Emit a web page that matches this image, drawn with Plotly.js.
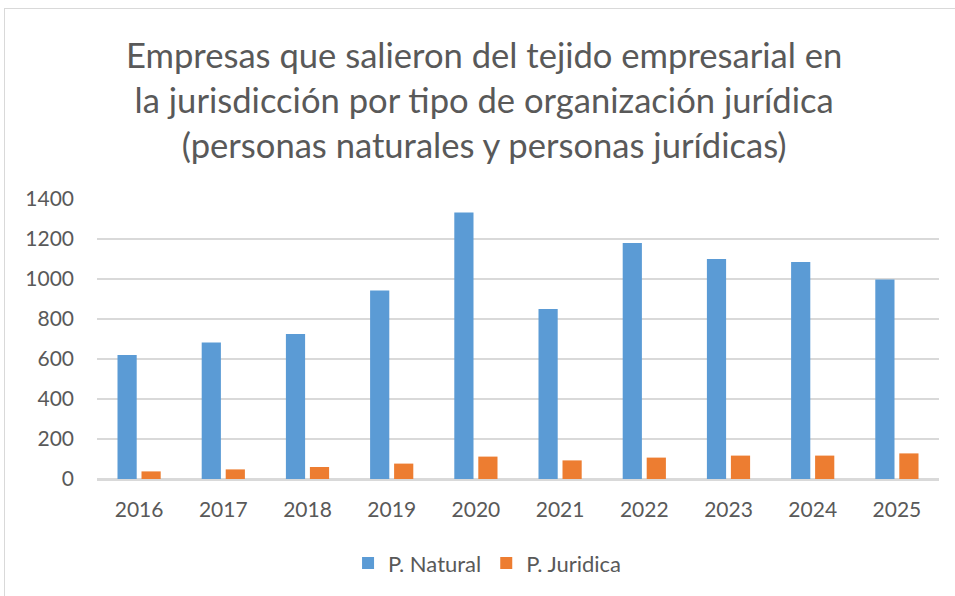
<!DOCTYPE html>
<html>
<head>
<meta charset="utf-8">
<script src="https://cdn.plot.ly/plotly-3.0.1.min.js"></script>
<style>
  html, body { margin: 0; padding: 0; background: #ffffff; overflow: hidden; }
  #chart { width: 955px; height: 596px; position: absolute; left: 0; top: 0; }
  #frame { position: absolute; left: 4px; top: 8px; width: 970px; height: 620px;
           border: 1.5px solid #d9d9d9; pointer-events: none; box-sizing: border-box; }
</style>
</head>
<body>
<div id="chart"></div>
<div id="frame"></div>
<script>
const years = ['2016', '2017', '2018', '2019', '2020', '2021', '2022', '2023', '2024', '2025'];
const natural = [620, 683, 725, 943, 1333, 850, 1180, 1100, 1085, 998];
const juridica = [38, 48, 60, 77, 112, 93, 107, 117, 117, 128];
const seriesNames = ['P. Natural', 'P. Juridica'];
const yTicks = [0, 200, 400, 600, 800, 1000, 1200, 1400];

const textColor = '#595959';
const fontFamily = 'Lato, "Open Sans", "Liberation Sans", sans-serif';

const traces = [
  { type: 'bar', name: seriesNames[0], x: years, y: natural,
    marker: { color: '#5b9bd5', line: { width: 0 } } },
  { type: 'bar', name: seriesNames[1], x: years, y: juridica,
    marker: { color: '#ed7d31', line: { width: 0 } } }
];

const layout = {
  width: 955, height: 596,
  paper_bgcolor: 'rgba(0,0,0,0)', plot_bgcolor: 'rgba(0,0,0,0)',
  margin: { l: 97, r: 16, t: 199, b: 117 },
  font: { family: fontFamily, color: textColor },
  title: {
    text: 'Empresas que salieron del tejido empresarial en<br>la jurisdicción por tipo de organización jurídica<br>(personas naturales y personas jurídicas)',
    font: { size: 34.6, color: textColor, family: fontFamily },
    xref: 'container', x: 0.507, xanchor: 'center',
    yref: 'container', y: 0.8856, yanchor: 'top'
  },
  barmode: 'group', bargap: 0.43, bargroupgap: 0.2,
  xaxis: {
    type: 'category', tickfont: { size: 21, color: textColor },
    showgrid: false, showline: true, linecolor: '#d9d9d9', linewidth: 1.5,
    ticks: '', ticklabelstandoff: 11
  },
  yaxis: {
    range: [0, 1400], tickvals: yTicks, ticktext: yTicks.map(String),
    tickfont: { size: 21, color: textColor },
    showgrid: true, gridcolor: '#d9d9d9', gridwidth: 1.5,
    zeroline: true, zerolinecolor: '#d9d9d9', zerolinewidth: 1.5,
    showline: false, ticks: '', ticklabelstandoff: 22
  },
  legend: {
    orientation: 'h', xref: 'container', yref: 'container',
    x: 0.51, xanchor: 'center', y: 0.055, yanchor: 'middle',
    font: { size: 22, color: textColor }, itemwidth: 30
  },
  showlegend: true
};

Plotly.newPlot('chart', traces, layout, { displayModeBar: false, staticPlot: true });
</script>
</body>
</html>
